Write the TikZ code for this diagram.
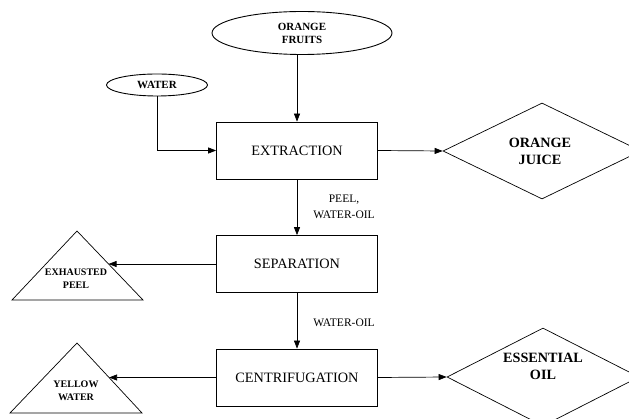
\documentclass[tikz,border=0pt]{standalone}
\usepackage{fontspec}
\setmainfont{Liberation Serif}
\usetikzlibrary{shapes.geometric,arrows.meta,calc}
\begin{document}
\begin{tikzpicture}[x=1pt,y=-1pt,
  proc/.style={draw, line width=0.7pt, minimum width=161pt, minimum height=57pt, inner sep=0pt, font=\fontsize{14.3}{17}\selectfont},
  src/.style={draw, ellipse, line width=0.9pt, inner sep=0pt, align=center, font=\bfseries\fontsize{11}{13}\selectfont},
  prod/.style={draw, diamond, line width=0.7pt, inner sep=0pt},
  lbl/.style={font=\bfseries\fontsize{14.2}{17}\selectfont, align=center},
  tlbl/.style={font=\bfseries\fontsize{10}{13}\selectfont, align=center},
  tri/.style={line width=0.7pt, line join=miter},
  flow/.style={line width=0.7pt, -{Triangle[length=8pt,width=6pt]}},
  note/.style={font=\fontsize{11.5}{16}\selectfont, align=center}
]
\useasboundingbox (0,0) rectangle (629,419);
\fill[white] (0,0) rectangle (629,419);
\clip (0,0) rectangle (629,419);

% process boxes
\node[proc] (ext) at (297,150.5) {EXTRACTION};
\node[proc] (sep) at (297,264) {SEPARATION};
\node[proc] (cen) at (297,377.5) {CENTRIFUGATION};

% sources
\node[src, minimum width=180pt, minimum height=43pt] (orf) at (302,33) {ORANGE\\FRUITS};
\node[src, minimum width=101pt, minimum height=22pt] (wat) at (157,85) {WATER};

% products (diamonds)
\node[prod, minimum width=198pt, minimum height=96pt] (oj) at (542,151) {};
\node[lbl] (ojt) at (540,151.5) {ORANGE\\JUICE};
\node[prod, minimum width=192pt, minimum height=98pt] (eo) at (543,377) {};
\node[lbl] (eot) at (543,366) {ESSENTIAL\\OIL};

% by-products (triangles)
\coordinate (epA) at (77,231);
\coordinate (epL) at (12,300);
\coordinate (epR) at (143,300);
\draw[tri] (epA) -- (epR) -- (epL) -- cycle;
\node[tlbl] (ept) at (76,278.5) {EXHAUSTED\\PEEL};
\coordinate (epE) at ($(epA)!0.478!(epR)$);

\coordinate (ywA) at (77,343);
\coordinate (ywL) at (10,413);
\coordinate (ywR) at (142,413);
\draw[tri] (ywA) -- (ywR) -- (ywL) -- cycle;
\node[tlbl] (ywt) at (76,391) {YELLOW\\WATER};
\coordinate (ywE) at ($(ywA)!0.493!(ywR)$);

% connectors
\draw[flow] (ext.north |- orf.south) -- (ext.north);
\draw[flow] (wat.south) |- (ext.west);
\draw[flow] (ext.east) -- (oj.west);
\draw[flow] (ext.south) -- (sep.north);
\node[note] (l1) at (344,207) {PEEL,\\WATER-OIL};
\draw[flow] (sep.south) -- (cen.north);
\node[note] (l2) at (344,323) {WATER-OIL};
\draw[flow] (cen.east) -- (eo.west);
\draw[flow] (sep.west) -- (sep.west -| epE);
\draw[flow] (cen.west) -- (cen.west -| ywE);
\end{tikzpicture}
\end{document}
